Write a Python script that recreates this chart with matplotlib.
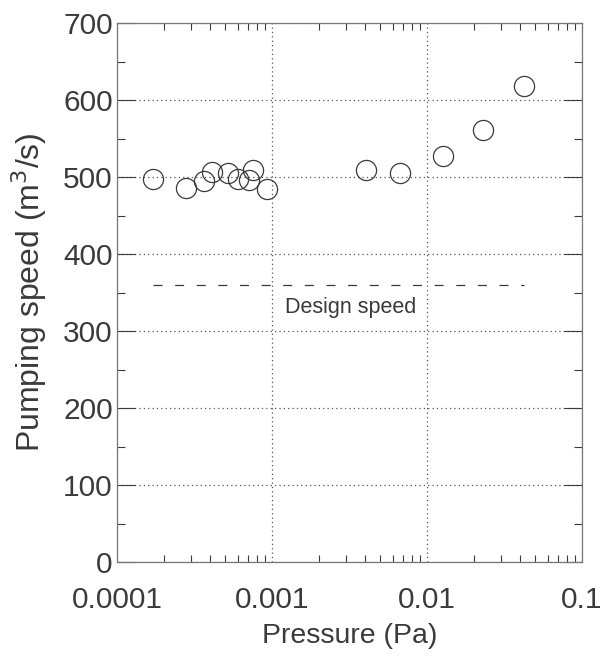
import matplotlib
matplotlib.use("Agg")
import matplotlib.pyplot as plt
from matplotlib.ticker import LogLocator, FixedLocator, MultipleLocator, FixedFormatter

plt.rcParams['font.family'] = ['Liberation Sans', 'DejaVu Sans']

# data
pressure = [1.70e-4, 2.79e-4, 3.64e-4, 4.08e-4, 5.23e-4, 6.06e-4, 7.57e-4, 7.14e-4, 9.25e-4,
            4.04e-3, 6.7e-3, 1.27e-2, 2.30e-2, 4.24e-2]
speed = [498, 486, 495, 507, 505, 497, 509, 496, 485,
         509, 505, 527, 561, 618]
design_x = [1.7e-4, 4.2e-2]
design_speed = [360, 360]
x_ticks = [1e-4, 1e-3, 1e-2, 1e-1]
x_labels = ["0.0001", "0.001", "0.01", "0.1"]
y_ticks = [0, 100, 200, 300, 400, 500, 600, 700]

ink = '#3a3a3a'
fig = plt.figure(figsize=(6.13, 6.56), dpi=100)
ax = fig.add_axes([117/613, 1-562/656, (582-117)/613, (562-23)/656])

ax.set_xscale('log')
ax.set_xlim(1e-4, 1e-1)
ax.set_ylim(0, 700)

ax.plot(pressure, speed, linestyle='none', marker='o', markersize=14.5,
        markerfacecolor='none', markeredgecolor=ink, markeredgewidth=0.9, zorder=3)
ax.plot(design_x, design_speed, linestyle=(0, (7.2, 10.1)), color=ink, linewidth=0.9)
ax.text(3.2e-3, 344, "Design speed", ha='center', va='top', fontsize=15.5, color=ink)

ax.xaxis.set_major_locator(FixedLocator(x_ticks))
ax.xaxis.set_major_formatter(FixedFormatter(x_labels))
ax.xaxis.set_minor_locator(LogLocator(base=10, subs=range(2, 10)))
ax.yaxis.set_major_locator(FixedLocator(y_ticks))
ax.yaxis.set_minor_locator(MultipleLocator(50))

ax.grid(True, which='major', linestyle=(0, (1, 2.5)), color='#555555', linewidth=0.9)

ax.tick_params(axis='both', which='both', direction='in', top=True, right=True,
               colors=ink, labelcolor=ink, labelsize=21.5, width=0.8)
ax.tick_params(axis='y', which='major', length=13, pad=3)
ax.tick_params(axis='y', which='minor', length=6)
ax.tick_params(axis='x', which='major', length=0, pad=17)
ax.tick_params(axis='x', which='minor', length=5)

for s in ax.spines.values():
    s.set_color('#777777')
    s.set_linewidth(0.9)

ax.set_xlabel("Pressure (Pa)", fontsize=20.5, color=ink, labelpad=7)
ax.set_ylabel("Pumping speed (m$^3$/s)", fontsize=23, color=ink, labelpad=10)

fig.savefig("out.png", dpi=100)
